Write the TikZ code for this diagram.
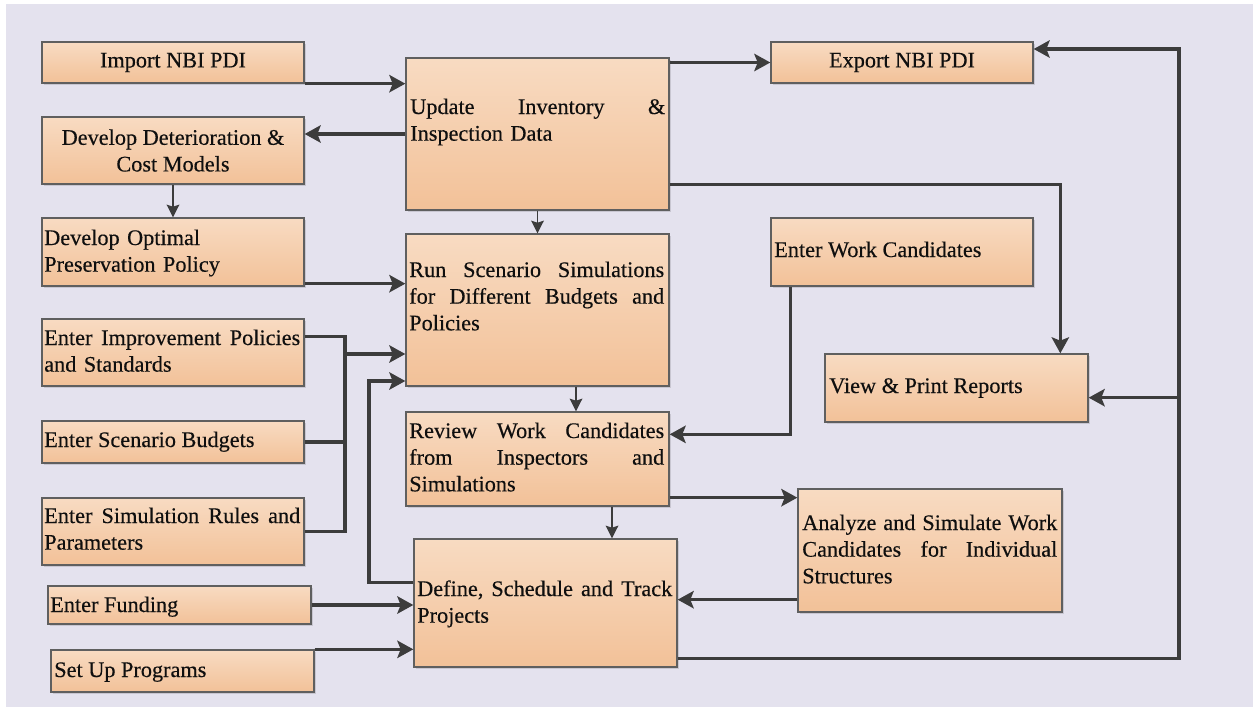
\documentclass[tikz,border=0pt]{standalone}
\usepackage{fontspec}
\setmainfont{Liberation Serif}[FakeBold=0.35]
\usetikzlibrary{arrows.meta,calc,fit,shadows}

\definecolor{bgl}{RGB}{228,226,238}
\definecolor{boxtop}{RGB}{248,219,194}
\definecolor{boxbot}{RGB}{242,193,152}
\definecolor{edge}{RGB}{95,95,95}
\definecolor{wire}{RGB}{60,60,60}
\definecolor{ink}{RGB}{15,15,15}

\tikzset{
  box/.style={draw=edge, line width=1pt, top color=boxtop, bottom color=boxbot,
    inner sep=0pt,
    drop shadow={shadow xshift=1.3pt, shadow yshift=-1.3pt, opacity=0.12, fill=black}},
  lbl/.style={inner sep=0pt, font=\fontsize{16.7}{20}\selectfont, text=ink, align=left},
  conn/.style={draw=wire, line width=2.6pt},
  arr/.style={conn, -{Stealth[length=12pt, width=13pt, inset=2.5pt]}},
  thinarr/.style={draw=wire, line width=1.3pt, -{Stealth[length=9.5pt, width=9.5pt, inset=1.5pt]}},
}

\begin{document}
\begin{tikzpicture}[x=0.75pt,y=-0.75pt]
\useasboundingbox (0,0) rectangle (1253,707);
\fill[white] (0,0) rectangle (1253,707);
\fill[bgl] (6,4) rectangle (1253,707);

% left column
\node[box, fit={(42,42)(304,83)}]   (imp)   {};
\node[box, fit={(42,117)(304,184)}] (det)   {};
\node[box, fit={(42,218)(304,286)}] (opt)   {};
\node[box, fit={(42,319)(304,386)}] (impr)  {};
\node[box, fit={(42,421)(304,463)}] (scen)  {};
\node[box, fit={(42,498)(304,565)}] (sim)   {};
\node[box, fit={(48,586)(311,624)}] (fund)  {};
\node[box, fit={(51,650)(314,692)}] (setup) {};
% middle column
\node[box, fit={(406,58)(669,210)}]  (upd) {};
\node[box, fit={(406,234)(669,386)}] (run) {};
\node[box, fit={(406,412)(669,506)}] (rev) {};
\node[box, fit={(414,539)(677,667)}] (def) {};
% right column
\node[box, fit={(771,42)(1033,83)}]   (exp)  {};
\node[box, fit={(771,218)(1033,286)}] (work) {};
\node[box, fit={(825,354)(1088,422)}] (view) {};
\node[box, fit={(798,489)(1062,612)}] (ana)  {};

% labels
\node[lbl] (imp-t) at (imp.center) {Import NBI PDI};
\node[lbl, align=center] (det-t) at (det.center) {Develop Deterioration \&\\Cost Models};
\node[lbl, anchor=base west, text width=192pt] (opt-t) at (44,245) {Develop Optimal\\Preservation Policy};
\node[lbl, anchor=base west, text width=192pt] (impr-t) at (44,345) {Enter\hfill Improvement\hfill Policies\\and Standards};
\node[lbl, anchor=base west] (scen-t) at (44,447) {Enter Scenario Budgets};
\node[lbl, anchor=base west, text width=192pt] (sim-t) at (44,523) {Enter\hfill Simulation\hfill Rules\hfill and\\Parameters};
\node[lbl, anchor=base west] (fund-t) at (50,612) {Enter Funding};
\node[lbl, anchor=base west] (setup-t) at (54,677) {Set Up Programs};

\node[lbl, anchor=base west, text width=191.25pt] (upd-t) at (410,114) {Update\hfill Inventory\hfill \&\\Inspection Data};
\node[lbl, anchor=base west, text width=191.25pt] (run-t) at (409,277) {Run\hfill Scenario\hfill Simulations\\for\hfill Different\hfill Budgets\hfill and\\Policies};
\node[lbl, anchor=base west, text width=191.25pt] (rev-t) at (409,438) {Review\hfill Work\hfill Candidates\\from\hfill Inspectors\hfill and\\Simulations};
\node[lbl, anchor=base west, text width=191.25pt] (def-t) at (417,596) {Define,\hfill Schedule\hfill and\hfill Track\\Projects};

\node[lbl] (exp-t) at (exp.center) {Export NBI PDI};
\node[lbl, anchor=base west] (work-t) at (774,257) {Enter Work Candidates};
\node[lbl, anchor=base west] (view-t) at (829,393) {View \& Print Reports};
\node[lbl, anchor=base west, text width=191.25pt] (ana-t) at (802,530) {Analyze\hfill and\hfill Simulate\hfill Work\\Candidates\hfill for\hfill Individual\\Structures};

% helper points on the connectors
\coordinate (optout) at ($(opt.south east)+(0,-3)$);
\coordinate (busl)   at (345,354);
\coordinate (improut) at ($(impr.north east)+(0,18)$);
\coordinate (fb)     at (369,381);
\coordinate (defout) at ($(def.north west)+(0,44)$);
\coordinate (rr)     at ($(run.south)+(38.5,0)$);
\coordinate (rd)     at ($(rev.south)+(74.5,0)$);
\coordinate (wk)     at ($(work.south west)+(20,0)$);
\coordinate (rvin)   at ($(rev.north east)+(0,23)$);
\coordinate (uo)     at ($(upd.south east)+(0,-26)$);
\coordinate (vin)    at ($(view.north west)+(236,0)$);
\coordinate (ro)     at ($(rev.south east)+(0,-9)$);
\coordinate (ao)     at ($(ana.south west)+(0,-13)$);
\coordinate (busr)   at (1179,49);
\coordinate (dout)   at ($(def.south east)+(0,-9)$);
\coordinate (vr)     at ($(view.south east)+(0,-25)$);

% connectors
\draw[arr] (imp.south east) -- (imp.south east -| upd.west);
\draw[arr] (upd.east |- exp.west) -- (exp.west);
\draw[arr] (upd.west) -- (upd.west -| det.east);
\draw[thinarr] (det.south) -- (opt.north);
\draw[arr] (optout) -- (optout -| run.west);
\draw[thinarr] (upd.south) -- (run.north);

\draw[conn] (improut) -- (improut -| busl) -- (busl |- sim.east) -- (sim.east);
\draw[conn] (scen.east) -- (scen.east -| busl);
\draw[arr] (busl) -- (busl -| run.west);

\draw[arr] (defout) -| (fb) -- (fb -| run.west);
\draw[arr] (fund.east) -- (fund.east -| def.west);
\draw[arr] (setup.north east) -- (setup.north east -| def.west);

\draw[thinarr] (rr) -- (rr |- rev.north);
\draw[thinarr] (rd) -- (rd |- def.north);

\draw[arr] (wk) |- (rvin);
\draw[arr] (uo) -| (vin);
\draw[arr] (ro) -- (ro -| ana.west);
\draw[arr] (ao) -- (ao -| def.east);
\draw[arr] (dout) -| (busr) -- (busr -| exp.east);
\draw[arr] (vr -| busr) -- (vr);
\end{tikzpicture}
\end{document}
